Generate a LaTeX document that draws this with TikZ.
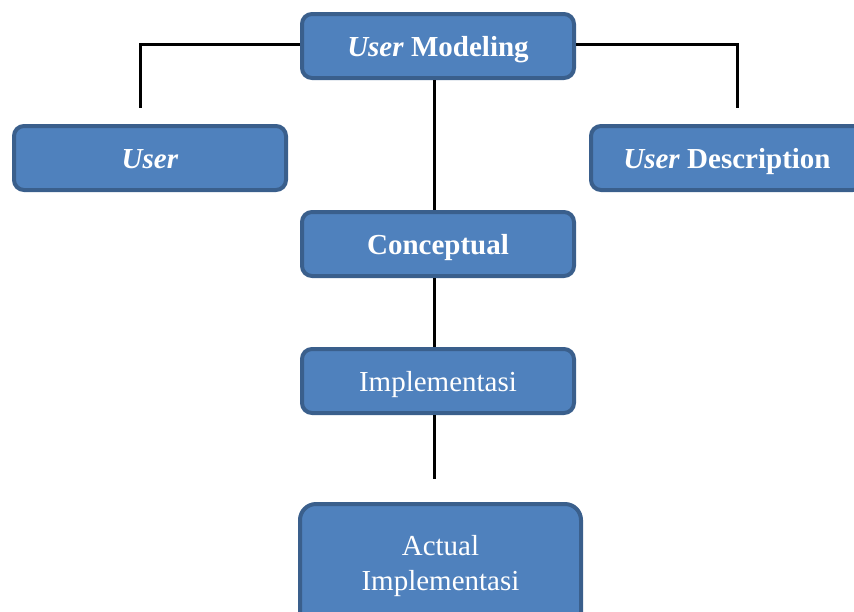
\documentclass[tikz,border=0pt]{standalone}
\usepackage{fontspec}
\setmainfont{Liberation Serif}
\begin{document}
\begin{tikzpicture}[x=1pt,y=-1pt,
  box/.style={draw=boxline,fill=boxfill,line width=4pt,rounded corners=10pt,
    minimum width=272pt,minimum height=64pt,inner sep=0pt,text=white,
    font=\fontsize{29}{35}\selectfont,text height=24pt,text depth=4pt},
  link/.style={line width=3pt,black}]
\definecolor{boxfill}{HTML}{4F81BD}
\definecolor{boxline}{HTML}{3A5F8C}
\clip (0,0) rectangle (854,611);
\useasboundingbox (0,0) rectangle (854,611);

% boxes
\node[box] (um) at (438,46) {\textbf{\textit{User} Modeling}};
\node[box] (user) at (150,158) {\textbf{\textit{User}}};
\node[box] (desc) at (727,158) {\textbf{\textit{User} Description}};
\node[box] (conc) at (438,244) {\textbf{Conceptual}};
\node[box] (impl) at (438,381) {Implementasi};
\node[box,minimum width=281pt,minimum height=124pt,rounded corners=16pt,
  align=center,text height=,text depth=] (act) at (440.5,566) {Actual\\Implementasi};

% connector end points
\coordinate (spine) at (434,0);
\coordinate (lcorner) at (140,44);
\coordinate (lend) at (140,108);
\coordinate (rcorner) at (737,44);
\coordinate (rend) at (737,108);
\coordinate (iend) at (434,479);

% connectors
\draw[link] (um.west |- lcorner) -- (lcorner) -- (lend);
\draw[link] (um.east |- rcorner) -- (rcorner) -- (rend);
\draw[link] (um.south -| spine) -- (conc.north -| spine);
\draw[link] (conc.south -| spine) -- (impl.north -| spine);
\draw[link] (impl.south -| spine) -- (iend);
\end{tikzpicture}
\end{document}
